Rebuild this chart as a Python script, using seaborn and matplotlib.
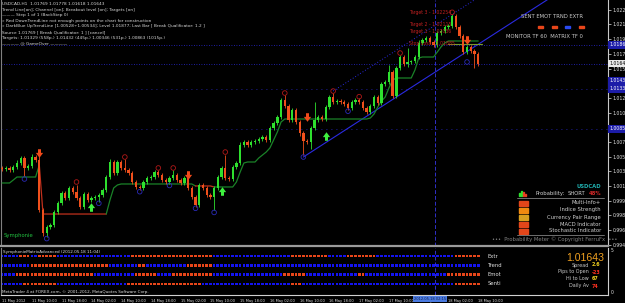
import numpy as np
import matplotlib
matplotlib.use("Agg")
import matplotlib.pyplot as plt
import matplotlib.transforms as mtransforms
from matplotlib.patches import Rectangle
import seaborn as sns

W, H = 625, 303
PIP = 0.0001

# USDCAD H1 candles (close, wick sizes in pips)
first_open = 1.00386
closes = [
    1.00374, 1.00386, 1.00362, 1.00398, 1.00446, 1.00506, 1.00386, 1.00410, 1.00518, 1.00482,
    0.99880, 0.99602, 0.99675, 0.99699, 0.99855, 0.99964, 1.00084, 1.00024, 1.00145, 1.00096,
    1.00024, 0.99916, 1.00072, 1.00000, 1.00024, 1.00036, 1.00060, 1.00121, 1.00277, 1.00458,
    1.00325, 1.00458, 1.00386, 1.00362, 1.00325, 1.00217, 1.00157, 1.00145, 1.00217, 1.00265,
    1.00277, 1.00337, 1.00301, 1.00241, 1.00217, 1.00265, 1.00301, 1.00241, 1.00205, 1.00265,
    1.00145, 1.00036, 0.99940, 1.00181, 1.00145, 1.00060, 1.00036, 1.00145, 1.00277, 1.00386,
    1.00265, 1.00253, 1.00398, 1.00446, 1.00663, 1.00699, 1.00663, 1.00699, 1.00711, 1.00735,
    1.00759, 1.00723, 1.00868, 1.00928, 1.01000, 1.01205, 1.01133, 1.00964, 1.01085, 1.00940,
    1.00807, 1.00711, 1.00700, 1.00868, 1.00964, 1.01000, 1.00976, 1.01121, 1.01241, 1.01181,
    1.01193, 1.01181, 1.01157, 1.01109, 1.01181, 1.01205, 1.01181, 1.01109, 1.01060, 1.01133,
    1.01241, 1.01169, 1.01398, 1.01422, 1.01542, 1.01253, 1.01591, 1.01723, 1.01639, 1.01663,
    1.01670, 1.01723, 1.01892, 1.01928, 1.01952, 1.01904, 1.01868, 1.02012, 1.02036, 1.02085,
    1.02097, 1.02217, 1.02085, 1.01976, 1.01783, 1.01844, 1.01795, 1.01759, 1.01643,
]
upper_wick = [
    2, 2, 2, 2, 3, 3, 2, 2, 4, 2,
    8, 2, 2, 2, 2, 2, 2, 2, 2, 2,
    8, 2, 2, 2, 2, 2, 2, 2, 2, 4,
    2, 2, 2, 11, 2, 2, 2, 2, 2, 2,
    2, 2, 2, 2, 2, 2, 6, 2, 2, 2,
    2, 2, 2, 2, 2, 2, 2, 2, 2, 2,
    16, 2, 2, 2, 3, 2, 2, 2, 2, 2,
    2, 2, 2, 2, 2, 2, 6, 2, 2, 2,
    2, 2, 2, 2, 22, 2, 2, 2, 2, 5,
    2, 2, 2, 2, 2, 2, 2, 2, 2, 2,
    2, 2, 2, 2, 8, 2, 2, 2, 2, 17,
    2, 2, 3, 2, 2, 2, 2, 2, 2, 2,
    2, 2, 2, 2, 2, 2, 2, 2, 2,
]
lower_wick = [
    2, 2, 2, 2, 2, 2, 10, 2, 2, 2,
    3, 4, 5, 2, 2, 2, 2, 2, 2, 2,
    2, 3, 2, 2, 2, 2, 6, 2, 2, 2,
    2, 2, 2, 2, 2, 2, 2, 2, 2, 2,
    2, 2, 2, 2, 2, 2, 2, 2, 2, 2,
    2, 2, 2, 2, 2, 2, 2, 16, 2, 2,
    2, 2, 2, 2, 2, 2, 2, 2, 2, 2,
    2, 2, 2, 2, 2, 2, 2, 2, 2, 2,
    3, 17, 2, 8, 2, 2, 2, 2, 2, 2,
    2, 2, 2, 2, 2, 2, 2, 2, 2, 2,
    2, 2, 2, 2, 2, 2, 2, 2, 2, 4,
    2, 2, 2, 2, 2, 2, 2, 2, 2, 2,
    2, 2, 2, 2, 2, 2, 2, 17, 3,
]

# trailing stop line and its up/down state
trail = (
    [1.00205] * 3 + [1.00241] + [1.00277] * 6 + [1.00422] + [0.99831] * 17 + [0.99831]
    + [1.00000, 1.00145, 1.00181] + [1.00193] * 20 + [1.00169] * 5 + [1.00157] * 6
    + [1.00217, 1.00337, 1.00446] + [1.00458] * 3
    + [1.00506, 1.00542, 1.00578, 1.00627, 1.00723, 1.00819, 1.00940] + [1.00976] * 23
    + [1.00988, 1.01036, 1.01121, 1.01193, 1.01241, 1.01350, 1.01446] + [1.01470] * 5
    + [1.01567, 1.01711] + [1.01723] * 4 + [1.01783, 1.01844, 1.01892] + [1.01916] * 9
)
trail_runs = [("up", 10), ("dn", 18), ("up", 24), ("dn", 5), ("up", 72)]

swing_hi_idx = [20, 33, 42, 46, 60, 76, 89, 96, 107, 121]
swing_hi_px = [1.00217, 1.00518, 1.00386, 1.00386, 1.00578, 1.01289, 1.01313, 1.01245, 1.01771, 1.02262]
swing_lo_idx = [6, 12, 26, 37, 45, 52, 57, 81, 93, 125]
swing_lo_px = [1.00253, 0.99535, 0.99960, 1.00100, 1.00175, 0.99900, 0.99850, 1.00518, 1.01070, 1.01663]

dn_arrow_idx = [10, 50, 82, 125]
dn_arrow_px = [1.00570, 1.00301, 1.01000, 1.01928]
up_arrow_idx = [24, 59, 87]
up_arrow_px = [0.99916, 1.00108, 1.00771]

trend_idx = [81, 128]
trend_px = [1.00518, 1.01876]
channel_idx = 89
channel_px = 1.01313

tight_levels = [1.01868, 1.01639]
sparse_levels = [1.01338, 1.00856]
level_boxes = [1.01868, 1.01434, 1.01338, 1.00856]
cursor_idx = 116.5

target_names = ["Target 3 - 1.02254", "Target 2 - 1.02115", "Target 1 - 1.02036", "Stop Loss - 1.01885"]
target_px = [1.02254, 1.02115, 1.02036, 1.01885]
stop_loss = 1.01885

price_ticks = [1.02290, 1.02120, 1.01940, 1.01760, 1.01580, 1.01410, 1.01230, 1.01050, 1.00870,
               1.00700, 1.00520, 1.00350, 1.00170, 0.99990, 0.99820, 0.99640, 0.99460]
last_price = 1.01643

time_tick_idx = list(range(0, 129, 8))
time_labels = ["11 May 2012", "11 May 10:00", "11 May 18:00", "14 May 02:00", "14 May 10:00",
               "14 May 18:00", "15 May 02:00", "15 May 10:00", "15 May 18:00", "16 May 02:00",
               "16 May 10:00", "16 May 18:00", "17 May 02:00", "17 May 10:00", "17 May 18:00",
               "18 May 02:00", "18 May 10:00"]

# SymphonieMatrix rows (run lengths in bars)
matrix_rows = ["Extr", "Trend", "Emot", "Senti"]
extr_runs = [("B", 5), ("R", 3), ("B", 2), ("R", 5), ("B", 20), ("R", 22), ("B", 21), ("R", 10),
             ("B", 5), ("R", 8), ("B", 21), ("R", 7)]
trend_runs = [("B", 8), ("R", 21), ("B", 8), ("R", 2), ("B", 11), ("R", 7), ("B", 72)]
emot_runs = [("B", 4), ("R", 21), ("B", 11), ("R", 6), ("B", 4), ("R", 11), ("B", 19), ("R", 6),
             ("B", 14), ("R", 2), ("B", 22), ("R", 9)]
senti_runs = [("B", 6), ("R", 9), ("B", 19), ("R", 20), ("B", 24), ("R", 3), ("B", 41), ("R", 7)]

header_names = "SENT EMOT TRND EXTR"
header_states = ["R", "R", "B", "R"]

prob_labels = ["Multi-Info+", "Indice Strength", "Currency Pair Range", "MACD Indicator", "Stochastic Indicator"]
prob_colors = ["#e2461a", "#f08a10", "#d8a020", "#e2461a", "#e2461a"]

info_labels = ["Spread", "Pips to Open", "Hi to Low", "Daily Av"]
info_values = ["2.6", "-23", "67", "74"]
info_colors = ["#f0d020", "#ff3020", "#f0d020", "#ff3020"]

header_lines = [
    "USDCAD,H1  1.01769 1.01778 1.01618 1.01643",
    "Trend Line[on]; Channel [on]; Breakout level [on]; Targets [on]",
    "\u2014\u2014\u2014 Step 1 of 1 (BackStep 0)",
    "\u00bb Red DownTrendLine not enough points on the chart for construction",
    "\u00bb DarkBlue UpTrendLine [1.00528\u00f71.00534]; Level 1.01877; Last Bar [ Break Qualificator: 1.2 ]",
    "Source 1.01769 [ Break Qualificator: 1 ] [cancel]",
    "Targets: 1.01329 (558p.) 1.01432 (445p.) 1.00346 (531p.) 1.00863 (1015p.)",
    "\u2014\u2014\u2014\u2014 @ GameOver \u2014\u2014\u2014\u2014",
]

# ---- style ----
sns.set_style("dark", {"axes.facecolor": "black", "figure.facecolor": "black",
                       "axes.edgecolor": "#909090", "axes.grid": False})
plt.rcParams["font.family"] = ["Liberation Sans Narrow", "DejaVu Sans"]
BULL, BEAR = "#2ee02e", "#f0501c"
RED_DASH, BLUE_DASH = "#e8461a", "#1414f0"


def box(x0, y0, x1, y1):
    return [x0 / W, 1 - y1 / H, (x1 - x0) / W, (y1 - y0) / H]


fig = plt.figure(figsize=(W / 100, H / 100), dpi=100)
renderer = fig.canvas.get_renderer()


def fit(sample, width_px, **kw):
    # font size that makes `sample` about width_px wide (the terminal font is very narrow)
    t = fig.text(0, 0, sample, fontsize=10, **kw)
    w = t.get_window_extent(renderer).width
    t.remove()
    return 10 * width_px / w


FS_HEAD = fit(header_lines[4], 205)
FS_TIME = fit("11 May 10:00", 25)
FS_AXIS = fit("1.00170", 19)
FS_PANEL = fit("Stochastic Indicator", 52)
FS_TGT = fit(target_names[0], 42)
FS_SUBT = fit("SymphonieMatrixAdvanced (2012.05.18 11:04)", 98)
FS_INFO = fit("Pips to Open", 31)
FS_BIG = fit("1.01643", 38, family=["Liberation Sans", "DejaVu Sans"])


def ftext(x, y, s, **kw):
    kw.setdefault("fontsize", FS_PANEL)
    kw.setdefault("color", "#d0d0d0")
    kw.setdefault("va", "center")
    fig.text(x / W, 1 - y / H, s, **kw)


ax = fig.add_axes(box(1, 0, 608, 246))
sub = fig.add_axes(box(1, 248, 608, 295), sharex=ax)

n = len(closes)
idx = np.arange(n)
c = np.array(closes)
o = np.r_[first_open, c[:-1]]
hi = np.maximum(o, c) + np.array(upper_wick) * PIP
lo = np.minimum(o, c) - np.array(lower_wick) * PIP
cols = np.where(c >= o, BULL, BEAR)

# levels and trend lines behind candles
for lv in tight_levels:
    ax.axhline(lv, color="#2828d8", lw=0.6, ls=(0, (1, 2)), zorder=1)
for lv in sparse_levels:
    ax.axhline(lv, color="#2828d8", lw=0.6, ls=(0, (1, 5)), zorder=1)
ax.axvline(cursor_idx, color="#3030c8", lw=0.7, ls=(0, (4, 2)), zorder=1)
sub.axvline(cursor_idx, color="#3030c8", lw=0.7, ls=(0, (4, 2)), zorder=1)

slope = (trend_px[1] - trend_px[0]) / (trend_idx[1] - trend_idx[0])
tx = np.array([trend_idx[0], 165])
sns.lineplot(x=tx, y=trend_px[0] + (tx - trend_idx[0]) * slope, ax=ax, color="#2a2ae0", lw=0.8, zorder=2)
cx = np.array([channel_idx, 165])
ax.plot(cx, channel_px + (cx - channel_idx) * slope, color="#2a2ae0", lw=0.7, ls=(0, (1, 2)), zorder=2)

# trailing line
start = 0
trail = np.array(trail)
for state, length in trail_runs:
    stop = min(start + length + 1, n)
    sns.lineplot(x=idx[start:stop], y=trail[start:stop], ax=ax,
                 color="#1a8228" if state == "up" else "#c0301c", lw=0.9, zorder=3)
    start += length
ax.plot([120, 129], [stop_loss, stop_loss], color="#7a9a2a", lw=0.8, zorder=3)

# candles
ax.vlines(idx, lo, hi, colors=cols, lw=0.6, zorder=4)
body = np.maximum(np.abs(c - o), 0.00009)
ax.bar(idx, body, bottom=np.minimum(o, c), width=0.62, color=cols, lw=0, zorder=5)

# swing markers and signal arrows
ax.scatter(swing_hi_idx, swing_hi_px, s=11, facecolors="none", edgecolors="#b01818", lw=0.6, zorder=6)
ax.scatter(swing_lo_idx, swing_lo_px, s=11, facecolors="none", edgecolors="#2a2ab8", lw=0.6, zorder=6)
dn_marker = [(-0.35, 1), (0.35, 1), (0.35, 0.15), (0.85, 0.15), (0, -1), (-0.85, 0.15), (-0.35, 0.15)]
up_marker = [(x, -y) for x, y in dn_marker]
ax.scatter(dn_arrow_idx, dn_arrow_px, s=38, marker=dn_marker, color="#f04a1a", lw=0, zorder=7)
ax.scatter(up_arrow_idx, up_arrow_px, s=38, marker=up_marker, color="#3ef03e", lw=0, zorder=7)

for name, val in zip(target_names, target_px):
    ax.text(109.5, val, name, color="#c02020", fontsize=FS_TGT, va="center", ha="left", zorder=8)

ax.set_xlim(-0.3, 162.9)
ax.set_ylim(1.0241 - 246 * 0.0001205, 1.0241)
ax.yaxis.tick_right()
ax.set_yticks(price_ticks)
ax.set_yticklabels([f"{p:.5f}" for p in price_ticks])
ax.tick_params(axis="y", colors="#e0e0e0", labelsize=FS_AXIS, length=2, width=0.5, pad=1.5, direction="out")
ax.tick_params(axis="x", bottom=False, labelbottom=False)
ax.spines["top"].set_visible(False)
ax.spines["right"].set_color("#c8c8c8")
ax.spines["right"].set_linewidth(0.8)
ax.spines["bottom"].set_color("#9a9a9a")
ax.spines["bottom"].set_linewidth(1.6)
ax.spines["left"].set_color("#808080")
ax.set_xlabel("")
ax.set_ylabel("")

ytr = mtransforms.blended_transform_factory(ax.transAxes, ax.transData)
for lv in level_boxes:
    ax.text(1.002, lv, f"{lv:.5f}", transform=ytr, fontsize=FS_AXIS, color="white", va="center", ha="left",
            bbox=dict(boxstyle="square,pad=0.25", fc="#1c1ca8", ec="none"), clip_on=False)
ax.text(1.002, last_price, f"{last_price:.5f}", transform=ytr, fontsize=FS_AXIS, color="black", va="center",
        ha="left", bbox=dict(boxstyle="square,pad=0.25", fc="#e8e8e8", ec="none"), clip_on=False)

# matrix subwindow
for row, runs in zip([4, 3, 2, 1], [extr_runs, trend_runs, emot_runs, senti_runs]):
    states = np.repeat([s for s, _ in runs], [k for _, k in runs])
    sub.bar(idx, 0.3, bottom=row - 0.15, width=0.72,
            color=np.where(states == "R", RED_DASH, BLUE_DASH), lw=0)
sub.set_ylim(-0.18, 4.86)
sub.set_yticks([])
sub.set_xticks(time_tick_idx)
sub.set_xticklabels(time_labels, ha="left")
sub.tick_params(axis="x", colors="#e0e0e0", labelsize=FS_TIME, length=2, width=0.5, pad=1)
sub.spines["top"].set_visible(False)
sub.spines["right"].set_color("#d0d0d0")
sub.spines["bottom"].set_color("#d0d0d0")
sub.spines["left"].set_color("#808080")
sub.set_xlim(-0.3, 162.9)
for row, name in zip([4, 3, 2, 1], matrix_rows):
    sub.text(130.5, row, name, color="#e0e0e0", fontsize=FS_PANEL, va="center", ha="left")

# overlay texts
for i, line in enumerate(header_lines):
    ftext(2, 4 + i * 5.6, line, color="#d8d8d8", fontsize=FS_HEAD)
ftext(4, 236, "Symphonie", color="#22c040")
ftext(3, 252, "SymphonieMatrixAdvanced (2012.05.18 11:04)", color="#e0e0e0", fontsize=FS_SUBT)
ftext(2, 291.5, "MetaTrader 4 at FOREX.com, \u00a9 2001-2012, MetaQuotes Software Corp.", color="#e0e0e0",
      fontsize=FS_SUBT)
ftext(430, 299, "2012.05.18 02:15", ha="center", color="#102050", fontsize=FS_TIME,
      bbox=dict(boxstyle="square,pad=0.2", fc="#4a7ae0", ec="none"))
ftext(611, 251, "5", color="#e0e0e0", fontsize=FS_AXIS)
ftext(611, 292, "0", color="#e0e0e0", fontsize=FS_AXIS)

ftext(583, 17, header_names, ha="right", color="#c8c8c8")
for k, st in enumerate(header_states):
    fig.add_artist(Rectangle((538 / W + k * 13.5 / W, 1 - 28 / H), 5 / W, 2 / H,
                             color=RED_DASH if st == "R" else "#2a4af0", transform=fig.transFigure))
ftext(583, 36, "MONITOR TF 60  MATRIX TF 0", ha="right", color="#c8c8c8")

ftext(601, 186, "USDCAD", ha="right", color="#20b0b0", weight="bold")
for k, (hgt, col) in enumerate(zip([3, 5, 4, 2], ["#2ee02e", "#2ee02e", "#e84020", "#e84020"])):
    fig.add_artist(Rectangle(((519 + k * 2) / W, 1 - 196 / H), 1.2 / W, hgt / H, color=col,
                             transform=fig.transFigure))
ftext(536, 193.5, "Probability:", color="#d0d0d0")
ftext(585, 193.5, "SHORT", ha="right", color="#d0d0d0")
ftext(601, 193.5, "48%", ha="right", color="#d02828", weight="bold")
fig.add_artist(plt.Line2D([517 / W, 604 / W], [1 - 198 / H] * 2, color="#808080", lw=0.6))
for k, (lab, col) in enumerate(zip(prob_labels, prob_colors)):
    y = 203 + k * 7
    fig.add_artist(Rectangle((519 / W, 1 - (y + 2.5) / H), 9 / W, 5 / H, color=col,
                             transform=fig.transFigure))
    ftext(601, y, lab, ha="right", color="#d0d0d0")
fig.add_artist(plt.Line2D([517 / W, 604 / W], [1 - 235 / H] * 2, color="#808080", lw=0.6))
ftext(555, 239, "\u2022\u2022\u2022  Probability Meter \u00a9 Copyright FerruFx  \u2022\u2022\u2022", ha="center",
      color="#808080")

ftext(604, 258, f"{last_price:.5f}", ha="right", color="#f0a020", fontsize=FS_BIG,
      family=["Liberation Sans", "DejaVu Sans"])
for k, (lab, val, col) in enumerate(zip(info_labels, info_values, info_colors)):
    y = 265 + k * 7
    ftext(589, y, lab, ha="right", color="#c8c8c8", fontsize=FS_INFO)
    ftext(592, y, val, ha="left", color=col, fontsize=FS_INFO, weight="bold")

fig.savefig("out.png", dpi=100, facecolor="black")
